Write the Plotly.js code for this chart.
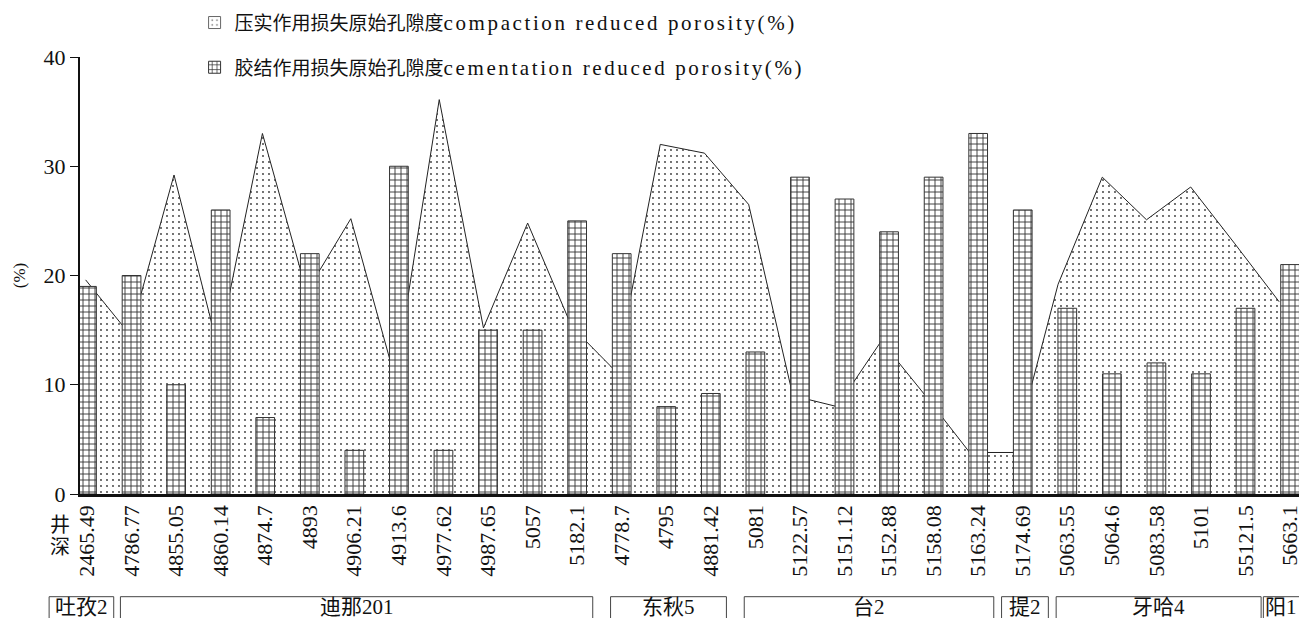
<!DOCTYPE html>
<html>
<head>
<meta charset="utf-8">
<script src="https://cdn.plot.ly/plotly-3.0.1.min.js"></script>
<style>html,body{margin:0;padding:0;background:#fff;}#chart{width:1299px;height:618px;}</style>
</head>
<body>
<div id="chart"></div>
<script>
// ---- data ----
const depthLabels = ["2465.49","4786.77","4855.05","4860.14","4874.7","4893","4906.21","4913.6","4977.62","4987.65","5057","5182.1","4778.7","4795","4881.42","5081","5122.57","5151.12","5152.88","5158.08","5163.24","5174.69","5063.55","5064.6","5083.58","5101","55121.5","5663.1"];
const compaction = [19.6,14.6,29.2,13.3,33.0,18.5,25.2,10.6,36.1,15.2,24.8,15.3,11.2,32.0,31.2,26.5,9.0,8.0,14.0,9.0,3.8,3.8,19.2,29.0,25.1,28.1,22.9,17.6];
const cementation = [19,20,10,26,7,22,4,30,4,15,15,25,22,8,9.2,13,29,27,24,29,33,26,17,11,12,11,17,21];
const wellNames = ["吐孜2","迪那201","东秋5","台2","提2","牙哈4","阳1"];
const wellFirst = [0,1,12,15,21,22,27];
const wellLast  = [0,11,14,20,21,26,27];
const yTicks = [0,10,20,30,40];
const cnCompaction = "压实作用损失原始孔隙度", enCompaction = "compaction reduced porosity(%)";
const cnCementation = "胶结作用损失原始孔隙度", enCementation = "cementation reduced porosity(%)";
const depthWord = ["井", "深"];

// ---- layout constants ----
const FONT = '"Liberation Serif", "Times New Roman", "Noto Sans CJK SC", serif';
const W = 1299, H = 618;
const mL = 80, mR = 0, mT = 57, mB = 124;
const barRange = [-0.157, 27.2];
const areaRange = [-0.127, 27.45];

function catToPaper(c){ return (c - barRange[0]) / (barRange[1] - barRange[0]); }
function legendName(cn, en){
  return cn + '<span style="font-size:21px;letter-spacing:2.6px">' + en + '</span>';
}

const dotPattern = {shape: '.', size: 6, solidity: 0.07, fgcolor: '#333', bgcolor: '#fff'};
const gridPattern = {shape: '+', size: 6, solidity: 0.28, fgcolor: '#333', bgcolor: '#fff'};

const traces = [
  {
    type: 'scatter', mode: 'lines', name: legendName(cnCompaction, enCompaction),
    x: depthLabels, y: compaction, xaxis: 'x', yaxis: 'y',
    fill: 'tozeroy', line: {color: '#222', width: 1},
    fillcolor: '#fff', fillpattern: dotPattern,
    showlegend: false
  },
  {
    // legend swatch for the compaction area (no visible marks)
    type: 'bar', name: legendName(cnCompaction, enCompaction),
    x: [depthLabels[0]], y: [null], xaxis: 'x', yaxis: 'y',
    marker: {color: '#fff', line: {color: '#666', width: 1}, pattern: dotPattern},
    legendgroup: 'a', showlegend: true
  },
  {
    type: 'bar', name: legendName(cnCementation, enCementation),
    x: depthLabels, y: cementation, xaxis: 'x2', yaxis: 'y',
    width: 0.42,
    marker: {color: '#fff', line: {color: '#333', width: 1}, pattern: gridPattern},
    legendgroup: 'b', showlegend: true
  }
];

const shapes = [];
const annotations = [];
const boxTop = -0.235, boxBot = -0.32;
const nG = wellNames.length;
for (let g = 0; g < nG; g++) {
  let left = wellFirst[g] - 0.25, right = wellLast[g] + 0.35;
  const minW = 0.25 + wellNames[g].length * 0.4;
  if (right - left < minW) {
    if (g === 0) { right = wellLast[g] + 0.6; left = right - minW; }
    else if (g === nG - 1) { left = wellFirst[g] - 0.6; right = barRange[1] + 0.3; }
    else { const c = (left + right) / 2; left = c - minW / 2; right = c + minW / 2; }
  }
  const textC = g === nG - 1 ? (left + barRange[1]) / 2 : (left + right) / 2;
  shapes.push({type: 'rect', xref: 'paper', yref: 'paper',
    x0: catToPaper(left), x1: catToPaper(right), y0: boxBot, y1: boxTop,
    line: {color: '#444', width: 1}, fillcolor: 'rgba(0,0,0,0)'});
  annotations.push({xref: 'paper', yref: 'paper', x: catToPaper(textC), y: boxTop + 0.008,
    yanchor: 'top', xanchor: 'center', showarrow: false, text: wellNames[g],
    font: {family: FONT, size: 21, color: '#111'}});
}
for (let k = 0; k < depthWord.length; k++) {
  annotations.push({xref: 'paper', yref: 'paper', x: -0.0165, y: -0.042 - k * 0.05, yanchor: 'top',
    xanchor: 'center', textangle: 0, showarrow: false, text: depthWord[k],
    font: {family: FONT, size: 20, color: '#111'}});
}

const layout = {
  width: W, height: H,
  margin: {l: mL, r: mR, t: mT, b: mB, pad: 0},
  paper_bgcolor: '#fff', plot_bgcolor: '#fff',
  font: {family: FONT, color: '#111'},
  showlegend: true,
  legend: {x: 0.094, y: 1.122, xanchor: 'left', yanchor: 'top', traceorder: 'grouped',
    tracegroupgap: 17, font: {family: FONT, size: 19, color: '#111'}, bgcolor: 'rgba(0,0,0,0)'},
  xaxis: {type: 'category', range: areaRange, showticklabels: false, ticks: '', showline: false,
    showgrid: false, zeroline: false, fixedrange: true},
  xaxis2: {type: 'category', overlaying: 'x', side: 'bottom', range: barRange, tickangle: -90,
    ticks: '', showline: true, linecolor: '#111', linewidth: 2.5, showgrid: false, zeroline: false,
    tickvals: depthLabels, ticktext: depthLabels,
    tickfont: {family: FONT, size: 22, color: '#111'}, fixedrange: true},
  yaxis: {range: [0, 40], tickvals: yTicks, ticktext: yTicks.map(String), ticks: 'outside', ticklen: 8,
    tickwidth: 1, tickcolor: '#111', showline: true, linecolor: '#111', linewidth: 2,
    showgrid: false, zeroline: false, tickfont: {family: FONT, size: 22, color: '#111'},
    title: {text: '(%)', font: {family: FONT, size: 17, color: '#111'}, standoff: 14}, fixedrange: true},
  bargap: 0.5,
  shapes: shapes,
  annotations: annotations
};

Plotly.newPlot('chart', traces, layout, {staticPlot: true, displayModeBar: false});
</script>
</body>
</html>
